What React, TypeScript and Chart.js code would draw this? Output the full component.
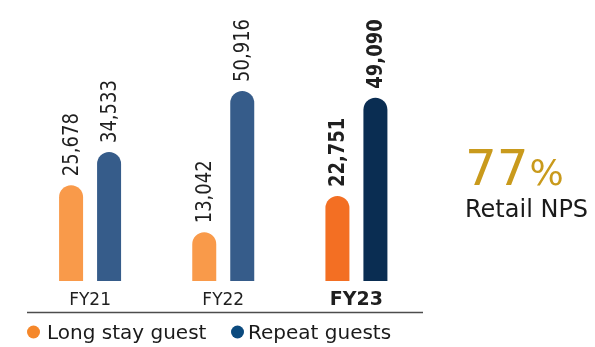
import React, { useEffect, useRef } from "react";
import { Chart, registerables } from "chart.js";

Chart.register(...registerables);

const categories = ["FY21", "FY22", "FY23"];
const longStay = [25678, 13042, 22751];
const repeatGuests = [34533, 50916, 49090];
const seriesNames = ["Long stay guest", "Repeat guests"];
const npsValue = "77";
const npsUnit = "%";
const npsLabel = "Retail NPS";

const longStayColors = ["#F99A4A", "#F99A4A", "#F36F23"];
const repeatColors = ["#365C8A", "#365C8A", "#0A2D52"];
const legendColors = ["#F5872A", "#0B4A7E"];

const FONT = '"DejaVu Sans", Verdana, sans-serif';

const overlay = {
  id: "overlay",
  afterDraw(chart: any) {
    const ctx = chart.ctx as CanvasRenderingContext2D;
    // value labels
    chart.data.datasets.forEach((ds: any, di: number) => {
      const meta = chart.getDatasetMeta(di);
      meta.data.forEach((el: any, i: number) => {
        const v = ds.data[i] as number;
        const bold = i === 2;
        ctx.save();
        ctx.translate(el.x, el.y - 9);
        ctx.rotate(-Math.PI / 2);
        ctx.scale(1, 1.15);
        ctx.font = `${bold ? "bold " : ""}18px ${FONT}`;
        ctx.fillStyle = "#1f1f1f";
        ctx.textAlign = "left";
        ctx.textBaseline = "middle";
        ctx.fillText(v.toLocaleString("en-US"), 0, 1);
        ctx.restore();
      });
    });
    // category labels
    const xs = chart.scales.x;
    ctx.save();
    ctx.fillStyle = "#1f1f1f";
    ctx.textAlign = "center";
    ctx.textBaseline = "alphabetic";
    categories.forEach((c, i) => {
      const bold = i === 2;
      ctx.font = `${bold ? "bold 19px" : "17px"} ${FONT}`;
      ctx.fillText(c, xs.getPixelForValue(i), 305);
    });
    ctx.restore();
    // base line
    ctx.save();
    ctx.strokeStyle = "#4d4d4d";
    ctx.lineWidth = 1.5;
    ctx.beginPath();
    ctx.moveTo(27, 312.5);
    ctx.lineTo(423, 312.5);
    ctx.stroke();
    ctx.restore();
    // legend
    ctx.save();
    ctx.font = `20px ${FONT}`;
    ctx.textAlign = "left";
    ctx.textBaseline = "alphabetic";
    const dotX = [33.5, 237.5];
    const textX = [47, 248];
    seriesNames.forEach((n, i) => {
      ctx.fillStyle = legendColors[i];
      ctx.beginPath();
      ctx.arc(dotX[i], 332, 6.5, 0, Math.PI * 2);
      ctx.fill();
      ctx.fillStyle = "#1a1a1a";
      ctx.fillText(n, textX[i], 339);
    });
    ctx.restore();
    // NPS
    ctx.save();
    ctx.textAlign = "left";
    ctx.textBaseline = "alphabetic";
    ctx.fillStyle = "#C99A1C";
    ctx.font = `50px ${FONT}`;
    ctx.fillText(npsValue, 465, 185);
    const w = ctx.measureText(npsValue).width;
    ctx.font = `36px ${FONT}`;
    ctx.fillText(npsUnit, 465 + w + 1, 185);
    ctx.fillStyle = "#1a1a1a";
    ctx.font = `24px ${FONT}`;
    ctx.fillText(npsLabel, 465, 217);
    ctx.restore();
  },
};

export default function App() {
  const ref = useRef<HTMLCanvasElement>(null);
  useEffect(() => {
    if (!ref.current) return;
    const chart = new Chart(ref.current, {
      type: "bar",
      data: {
        labels: categories,
        datasets: [
          {
            label: seriesNames[0],
            data: longStay,
            backgroundColor: longStayColors,
            borderRadius: 12,
            borderSkipped: "start",
          },
          {
            label: seriesNames[1],
            data: repeatGuests,
            backgroundColor: repeatColors,
            borderRadius: 12,
            borderSkipped: "start",
          },
        ],
      },
      options: {
        responsive: false,
        animation: false,
        devicePixelRatio: 1,
        layout: { padding: { left: 23.5, right: 172, top: 57, bottom: 66 } },
        datasets: {
          bar: { categoryPercentage: 0.5706, barPercentage: 0.6316 },
        },
        scales: {
          x: { display: false },
          y: { display: false, min: 0, max: 60000 },
        },
        plugins: {
          legend: { display: false },
          tooltip: { enabled: false },
        },
      },
      plugins: [overlay],
    });
    return () => chart.destroy();
  }, []);
  return (
    <div style={{ position: "absolute", left: 0, top: 0, width: 595, height: 347, background: "#fff" }}>
      <canvas ref={ref} width={595} height={347} style={{ width: 595, height: 347 }} />
    </div>
  );
}
